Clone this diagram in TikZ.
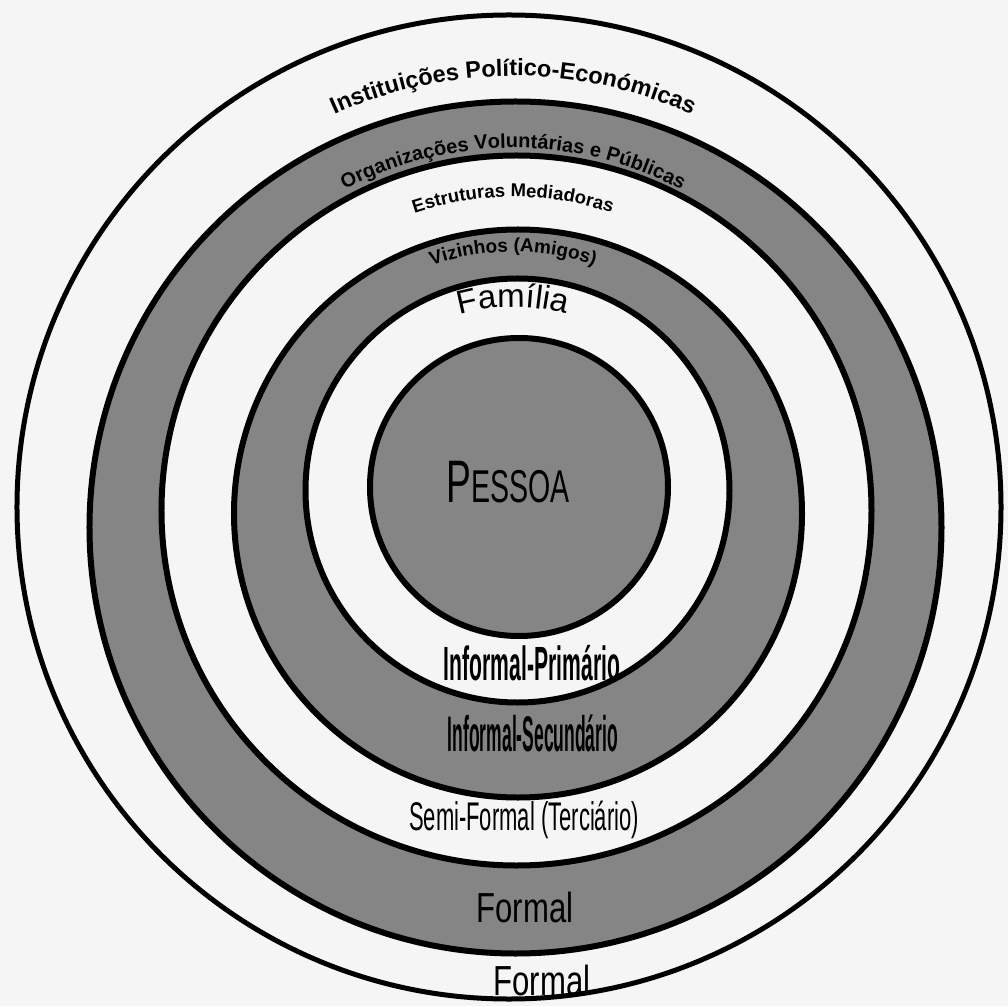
\documentclass[tikz,border=0pt]{standalone}
\usepackage{fontspec}
\setmainfont{Liberation Sans}
\usetikzlibrary{decorations.text}

\begin{document}
\begin{tikzpicture}[x=1pt, y=1pt,
    ring/.style={line width=6pt},
    band/.style={ring, fill=black!48},
    gap/.style={ring, fill=black!4},
    narrowtext/.style={inner sep=0pt, font=\fontsize{#1}{#1}\selectfont},
    arctext/.style={decorate, decoration={text along path, text align=center, text={#1}}}]

    % page, origin at the common centre of the rings
    \fill[black!4] (-513,507) rectangle (495,-499);
    \useasboundingbox (-513,507) rectangle (495,-499);

    % rings, outermost first
    \draw[gap, line width=5pt] (-4,0) circle[radius=492]; % Formal (outer)
    \draw[band] (2.5,-20.5) circle[radius=426]; % Formal (band)
    \draw[gap]  (3.5,-3.5) circle[radius=355];  % Semi-Formal
    \draw[band] (5,-6.5) circle[radius=284];    % Informal-Secundario
    \draw[gap]  (4.5,16.5) circle[radius=212];  % Informal-Primario
    \draw[band] (6,20) circle[radius=149];      % Pessoa

    % names along the top of the rings
    \path[arctext={|\bfseries\fontsize{23.5}{23.5}\selectfont|Instituições Político-Económicas}]
        (150:431) arc[start angle=150, end angle=30, radius=431];
    \path[arctext={|\bfseries\fontsize{20}{20}\selectfont|Organizações Voluntárias e Públicas}]
        (150:359) arc[start angle=150, end angle=30, radius=359];
    \path[arctext={|\bfseries\fontsize{18.5}{18.5}\selectfont|Estruturas Mediadoras}]
        (150:310) arc[start angle=150, end angle=30, radius=310];
    \path[arctext={|\bfseries\fontsize{19}{19}\selectfont|Vizinhos (Amigos)}]
        (150:255) arc[start angle=150, end angle=30, radius=255];
    \path[arctext={|\fontsize{33}{33}\selectfont|Família}]
        (150:200) arc[start angle=150, end angle=30, radius=200];

    % centre
    \node[narrowtext=60, xscale=0.62] (pessoa) at (-5,25) {P\fontsize{46}{46}\selectfont ESSOA};

    % names along the bottom
    \node[narrowtext=48, xscale=0.44] (prim) at (19,-156) {\bfseries Informal-Primário};
    \node[narrowtext=50, xscale=0.35] (secu) at (20,-226) {\bfseries Informal-Secundário};
    \node[narrowtext=40, xscale=0.55] (semi) at (11,-313) {Semi-Formal (Terciário)};
    \node[narrowtext=42, xscale=0.74] (form) at (12,-400) {Formal};
    \node[narrowtext=42, xscale=0.74] (formout) at (29,-473) {Formal};
\end{tikzpicture}
\end{document}
